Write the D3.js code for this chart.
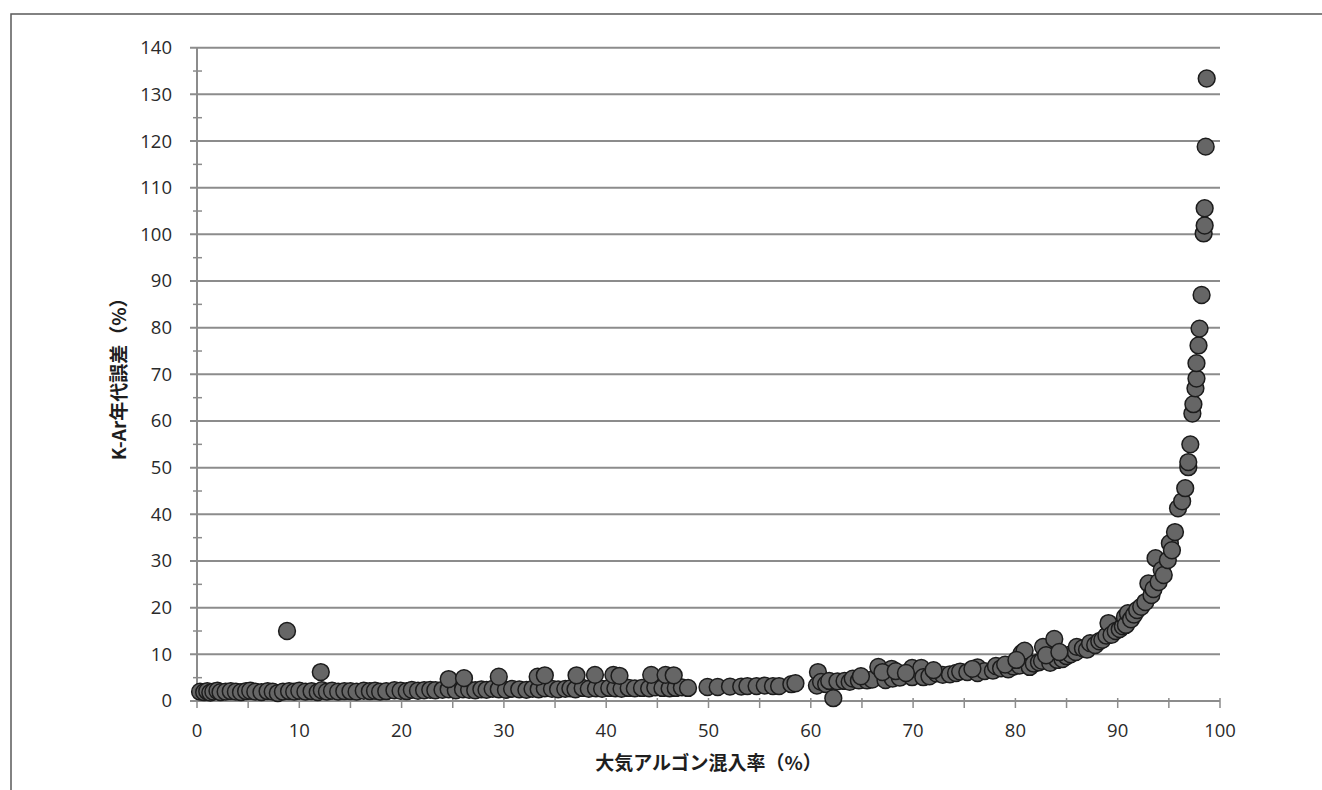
<!DOCTYPE html>
<html>
<head>
<meta charset="utf-8">
<script src="https://cdn.jsdelivr.net/npm/d3@7/dist/d3.min.js"></script>
<style>
  html, body { margin: 0; padding: 0; background: #fff; }
  svg { display: block; }
  .tick-label { font-family: "Open Sans", "Noto Sans", sans-serif; font-size: 18.5px; fill: #2a2a2a; }
  .axis-title { font-family: "Noto Sans CJK JP", "Noto Sans", sans-serif; font-size: 19px; font-weight: bold; fill: #1e1e1e; }
</style>
</head>
<body>
<svg id="chart" width="1322" height="790"></svg>
<script>
// ---- data ----
const xTickValues = [0, 10, 20, 30, 40, 50, 60, 70, 80, 90, 100];
const yTickValues = [0, 10, 20, 30, 40, 50, 60, 70, 80, 90, 100, 110, 120, 130, 140];
const xTitle = "大気アルゴン混入率（%）";
const yTitle = "K-Ar年代誤差（%）";

// atmospheric argon contamination (%)
const mixPct = [
  0.3, 0.7, 1.0, 1.3, 1.6, 2.0, 2.3, 2.8, 3.3, 3.8, 4.3, 4.8, 5.2, 5.7, 6.3, 6.9, 7.4, 7.9, 8.4, 9.0,
  9.5, 10.0, 10.6, 11.2, 11.8, 12.2, 12.7, 13.2, 13.8, 14.4, 15.0, 15.6, 16.3, 16.9, 17.4, 17.9, 18.5, 19.3, 19.9, 20.5,
  21.0, 21.6, 22.2, 22.8, 23.3, 24.0, 24.6, 25.3, 26.0, 26.6, 27.2, 27.8, 28.3, 28.9, 29.5, 30.2, 30.8, 31.5, 32.2, 32.8,
  33.4, 34.0, 34.7, 35.3, 36.0, 36.5, 37.0, 37.7, 38.3, 39.0, 39.6, 40.3, 40.9, 41.5, 42.2, 42.8, 43.5, 44.2, 44.8, 45.5,
  46.2, 46.8, 47.4, 48.0,
  8.8, 12.1, 24.6, 26.1, 29.5, 33.3, 34.0, 37.1, 38.9, 40.7, 41.3, 44.4, 45.8, 46.6,
  49.9, 50.9, 52.1, 53.2, 53.8, 54.7, 55.5, 56.3, 56.9, 58.1, 58.5,
  60.7, 60.6, 61.0, 61.5, 61.8, 62.2, 62.6, 63.3, 63.8, 64.1, 64.7, 65.5, 66.0, 66.6, 67.3, 67.9, 68.0, 68.7, 69.9, 69.9,
  70.8, 71.0, 71.6, 72.3, 72.9, 73.6, 74.2, 74.6, 75.3, 76.3, 76.3, 77.0, 77.8, 78.1, 78.6, 79.3, 79.8, 80.4, 80.6, 80.9,
  81.4, 81.8, 82.3, 82.6, 82.7, 83.4, 83.8, 84.1, 84.6, 85.0, 85.4, 85.9, 86.0, 86.6, 87.0, 87.3, 87.8, 88.2, 88.5, 88.9,
  89.1, 89.4, 89.8, 90.2, 90.5, 90.7, 90.8, 91.0, 91.3, 91.6, 91.9, 92.3, 92.7, 93.0, 93.3, 93.5, 93.7, 94.0, 94.3, 94.5,
  94.9, 95.1, 95.3, 95.6, 95.9, 96.3, 96.6, 96.9, 96.9, 97.1, 97.3, 97.4, 97.6, 97.7, 97.7, 97.9, 98.0, 98.2, 98.4, 98.5,
  98.5, 98.6, 98.7,
  64.9, 67.0, 68.3, 69.3, 72.0, 75.8, 79.0, 80.1, 83.0, 84.3
];
// K-Ar age error (%)
const errPct = [
  2.0, 1.9, 2.1, 1.8, 2.0, 2.2, 1.9, 2.0, 2.1, 2.0, 1.9, 2.1, 2.2, 2.0, 1.9, 2.1, 2.0, 1.7, 2.0, 2.1,
  2.0, 2.2, 2.0, 2.1, 1.9, 2.3, 2.0, 2.2, 2.0, 2.1, 2.1, 2.0, 2.2, 2.1, 2.2, 2.0, 2.1, 2.3, 2.2, 2.1,
  2.4, 2.2, 2.3, 2.4, 2.3, 2.4, 2.5, 2.3, 2.5, 2.4, 2.3, 2.5, 2.4, 2.6, 2.5, 2.4, 2.6, 2.5, 2.4, 2.6,
  2.5, 2.7, 2.6, 2.5, 2.6, 2.7, 2.5, 2.8, 2.6, 2.7, 2.6, 2.8, 2.7, 2.6, 2.8, 2.7, 2.8, 2.7, 2.9, 2.8,
  2.7, 2.8, 2.9, 2.8,
  15.0, 6.2, 4.7, 4.9, 5.2, 5.2, 5.5, 5.5, 5.6, 5.6, 5.4, 5.6, 5.6, 5.5,
  3.0, 3.0, 3.1, 3.1, 3.2, 3.2, 3.3, 3.2, 3.2, 3.6, 3.8,
  6.2, 3.3, 4.1, 3.6, 4.3, 0.6, 4.2, 4.3, 4.1, 4.8, 4.4, 4.4, 4.6, 7.3, 4.5, 6.9, 4.8, 5.0, 7.1, 5.1,
  7.1, 5.1, 5.3, 5.9, 5.6, 5.7, 6.0, 6.3, 6.2, 7.2, 6.0, 6.4, 6.5, 7.5, 7.0, 6.8, 7.4, 7.6, 10.2, 10.8,
  7.3, 8.0, 8.3, 8.6, 11.6, 8.2, 13.3, 8.8, 9.0, 9.6, 10.0, 10.5, 11.6, 11.3, 11.0, 12.4, 12.0, 12.8, 13.1, 14.0,
  16.7, 14.2, 15.0, 15.4, 16.0, 18.0, 16.3, 18.8, 17.5, 18.5, 19.5, 20.2, 21.2, 25.2, 22.7, 24.0, 30.6, 25.5, 28.1, 27.0,
  30.2, 33.8, 32.3, 36.2, 41.3, 42.8, 45.6, 50.1, 51.2, 55.0, 61.6, 63.6, 67.0, 69.1, 72.4, 76.2, 79.8, 87.0, 100.2, 101.9,
  105.6, 118.8, 133.4,
  5.3, 6.2, 6.4, 6.0, 6.6, 6.9, 7.8, 8.8, 9.8, 10.5
];

// ---- layout ----
const svg = d3.select("#chart");
const plot = { left: 197, right: 1220, top: 47.7, bottom: 701 };

const x = d3.scaleLinear().domain([0, 100]).range([plot.left, plot.right]);
const y = d3.scaleLinear().domain([0, 140]).range([plot.bottom, plot.top]);

const gridColor = "#8c8c8c";

// outer frame
svg.append("rect")
  .attr("x", 11).attr("y", 14)
  .attr("width", 1400).attr("height", 900)
  .attr("fill", "none").attr("stroke", "#5a5a5a").attr("stroke-width", 1.5);

// horizontal gridlines (major)
svg.append("g").selectAll("line")
  .data(yTickValues.filter(v => v > 0))
  .join("line")
  .attr("x1", plot.left - 7).attr("x2", plot.right)
  .attr("y1", d => y(d)).attr("y2", d => y(d))
  .attr("stroke", gridColor).attr("stroke-width", 2);

// y minor ticks
const yMinor = d3.range(5, 140, 10);
svg.append("g").selectAll("line")
  .data(yMinor)
  .join("line")
  .attr("x1", plot.left - 4).attr("x2", plot.left + 5)
  .attr("y1", d => y(d)).attr("y2", d => y(d))
  .attr("stroke", gridColor).attr("stroke-width", 1.5);

// y axis line
svg.append("line")
  .attr("x1", plot.left).attr("x2", plot.left)
  .attr("y1", y(140)).attr("y2", y(0))
  .attr("stroke", gridColor).attr("stroke-width", 2);

// x axis line
svg.append("line")
  .attr("x1", plot.left - 7).attr("x2", plot.right)
  .attr("y1", y(0)).attr("y2", y(0))
  .attr("stroke", gridColor).attr("stroke-width", 2);

// x ticks (major + minor)
const xAllTicks = d3.range(0, 101, 5);
svg.append("g").selectAll("line")
  .data(xAllTicks)
  .join("line")
  .attr("x1", d => x(d)).attr("x2", d => x(d))
  .attr("y1", y(0) - 3).attr("y2", y(0) + 7)
  .attr("stroke", gridColor).attr("stroke-width", 1.5);

// y tick labels
svg.append("g").selectAll("text")
  .data(yTickValues)
  .join("text")
  .attr("class", "tick-label")
  .attr("x", 172)
  .attr("y", d => y(d))
  .attr("dy", "0.35em")
  .attr("text-anchor", "end")
  .text(d => d);

// x tick labels
svg.append("g").selectAll("text")
  .data(xTickValues)
  .join("text")
  .attr("class", "tick-label")
  .attr("x", d => x(d))
  .attr("y", 737)
  .attr("text-anchor", "middle")
  .text(d => d);

// points
const pts = mixPct.map((m, i) => ({ m, e: errPct[i] }));
svg.append("g").selectAll("circle")
  .data(pts)
  .join("circle")
  .attr("cx", d => x(d.m))
  .attr("cy", d => y(d.e))
  .attr("r", 8.4)
  .attr("fill", "#666666")
  .attr("stroke", "#1c1c1c")
  .attr("stroke-width", 1.5);

// axis titles
svg.append("text")
  .attr("class", "axis-title")
  .attr("x", (plot.left + plot.right) / 2)
  .attr("y", 770)
  .attr("text-anchor", "middle")
  .text(xTitle);

svg.append("text")
  .attr("class", "axis-title")
  .attr("transform", `translate(126, ${(plot.top + plot.bottom) / 2}) rotate(-90)`)
  .attr("text-anchor", "middle")
  .text(yTitle);
</script>
</body>
</html>
